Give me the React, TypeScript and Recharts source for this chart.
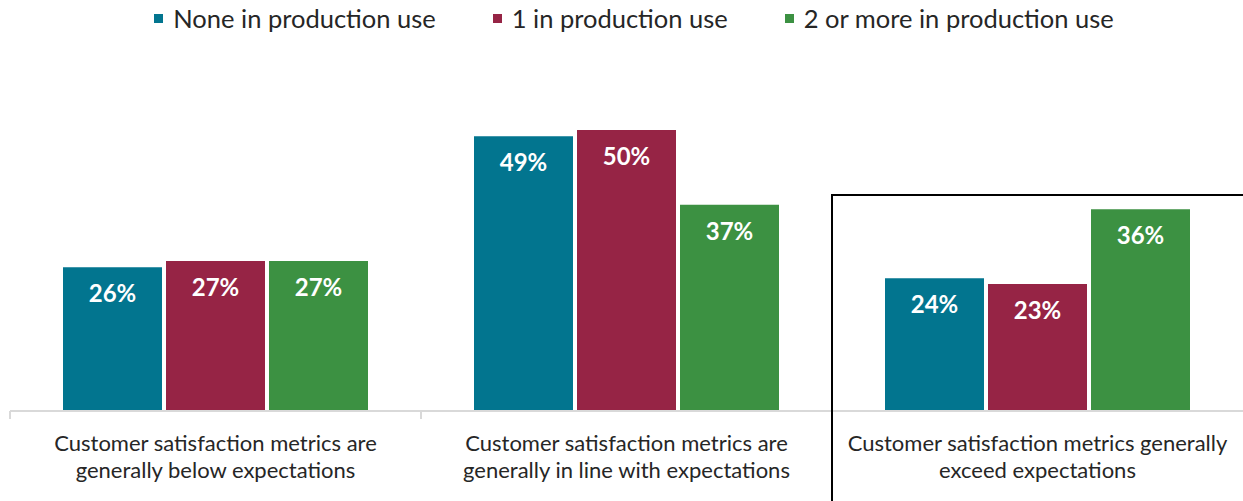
import { Bar, BarChart, LabelList, XAxis, YAxis } from "recharts";

const categories = [
  "Customer satisfaction metrics are\ngenerally below expectations",
  "Customer satisfaction metrics are\ngenerally in line with expectations",
  "Customer satisfaction metrics generally\nexceed expectations",
];
const noneInProduction = [25.6, 48.9, 23.6];
const oneInProduction = [26.7, 50, 22.6];
const twoOrMoreInProduction = [26.7, 36.7, 35.9];

const seriesNames = ["None in production use", "1 in production use", "2 or more in production use"];
const COLORS = ["#02758f", "#962445", "#3c9142"];
const FONT = "Lato, 'Source Sans Pro', sans-serif";

const data = categories.map((category, i) => ({
  category,
  none: noneInProduction[i],
  one: oneInProduction[i],
  twoPlus: twoOrMoreInProduction[i],
}));

const pct = (v: number) => `${Math.round(v)}%`;

function CategoryTick(props: any) {
  const { x, y, payload } = props;
  const lines = String(payload.value).split("\n");
  const edge = x - (payload.offset ?? 205.5);
  return (
    <g>
      <line x1={edge} x2={edge} y1={y} y2={y + 8} stroke="#d9d9d9" strokeWidth={2} />
      <text x={x} y={y} textAnchor="middle" fill="#262626" fontSize={22} fontFamily={FONT}>
        {lines.map((l, i) => (
          <tspan key={i} x={x} dy={i === 0 ? 40 : 27}>
            {l}
          </tspan>
        ))}
      </text>
    </g>
  );
}

function LegendRow() {
  return (
    <div
      style={{
        position: "absolute",
        top: 4,
        left: 0,
        width: 1243,
        display: "flex",
        justifyContent: "center",
        paddingLeft: 25,
        boxSizing: "border-box",
        fontFamily: FONT,
        fontSize: 25.5,
        color: "#262626",
        gap: 57,
      }}
    >
      {seriesNames.map((name, i) => (
        <div key={name} style={{ display: "flex", alignItems: "center", gap: 10, lineHeight: "28px" }}>
          <span style={{ width: 9, height: 9, background: COLORS[i], display: "inline-block" }} />
          <span>{name}</span>
        </div>
      ))}
    </div>
  );
}

export default function App() {
  const labelStyle = { fill: "#fff", fontSize: 24, fontWeight: 700, fontFamily: FONT };
  return (
    <div style={{ position: "absolute", left: 0, top: 0, width: 1243, height: 501, overflow: "hidden", background: "#fff" }}>
      <LegendRow />
      <BarChart
        width={1243}
        height={501}
        data={data}
        margin={{ top: 130, right: 0, bottom: 0, left: 10 }}
        barSize={99}
        barGap={4}
      >
        <YAxis hide domain={[0, 50]} />
        <XAxis
          dataKey="category"
          height={90}
          interval={0}
          tickLine={false}
          tickSize={0}
          tickMargin={0}
          axisLine={{ stroke: "#d9d9d9", strokeWidth: 2 }}
          tick={<CategoryTick />}
        />
        <Bar dataKey="none" name={seriesNames[0]} fill={COLORS[0]} isAnimationActive={false}>
          <LabelList dataKey="none" position="insideTop" offset={18} formatter={pct} style={labelStyle} />
        </Bar>
        <Bar dataKey="one" name={seriesNames[1]} fill={COLORS[1]} isAnimationActive={false}>
          <LabelList dataKey="one" position="insideTop" offset={18} formatter={pct} style={labelStyle} />
        </Bar>
        <Bar dataKey="twoPlus" name={seriesNames[2]} fill={COLORS[2]} isAnimationActive={false}>
          <LabelList dataKey="twoPlus" position="insideTop" offset={18} formatter={pct} style={labelStyle} />
        </Bar>
      </BarChart>
      <div
        style={{
          position: "absolute",
          left: 831,
          top: 194,
          width: 440,
          height: 340,
          borderLeft: "2px solid #000",
          borderTop: "2px solid #000",
          pointerEvents: "none",
        }}
      />
    </div>
  );
}
